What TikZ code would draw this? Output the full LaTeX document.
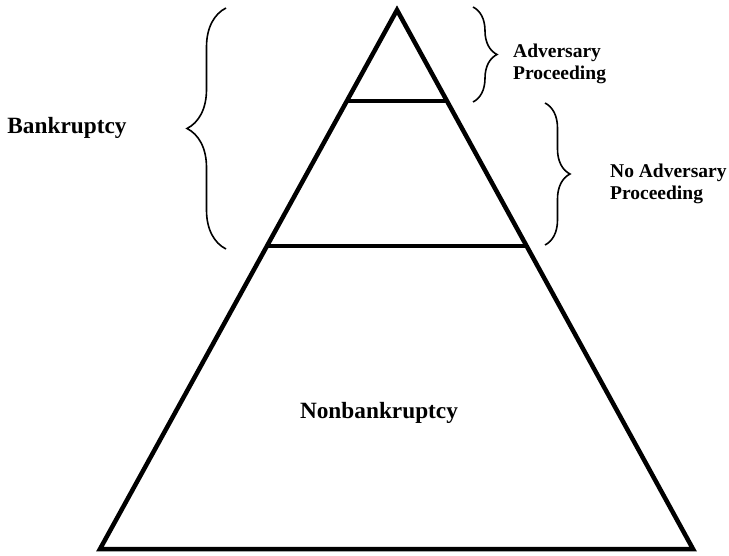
\documentclass[tikz,border=0pt]{standalone}
\usepackage{fontspec}
\setmainfont{Liberation Serif}
\usetikzlibrary{decorations.pathreplacing}

\tikzset{
	level/.style={line width=4.5pt},
	bracket/.style={line width=1.6pt, decorate, decoration={brace, amplitude=#1}},
	biglabel/.style={font=\fontsize{23.3}{26}\selectfont\bfseries, inner sep=0pt},
	smalllabel/.style={font=\fontsize{19.5}{22}\selectfont\bfseries, inner sep=0pt, align=left, anchor=west}
}

\begin{document}
\begin{tikzpicture}[x=1pt, y=-1pt]
		\useasboundingbox (0,0) rectangle (729,556);
		% Draw triangle.
		\coordinate (top) at (397,10);
		\coordinate (bl) at (100,549);
		\coordinate (br) at (693,549);
		\draw[level] (top) -- (br) -- (bl) -- cycle;
		
		% Draw the two cuts.
		\coordinate (p1) at (347,101);
		\coordinate (q1) at (447,101);
		\coordinate (p2) at (267,246);
		\coordinate (q2) at (527,246);
		\draw[level] (p1) -- (q1);
		\draw[level] (p2) -- (q2);
		
		% Braces.
		\coordinate (la) at (226,249);
		\coordinate (lb) at (226,8);
		\coordinate (ra) at (473,7);
		\coordinate (rb) at (473,102);
		\coordinate (sa) at (545,103);
		\coordinate (sb) at (545,245);
		\draw[bracket=39pt] (la) -- (lb);
		\draw[bracket=24pt] (ra) -- (rb);
		\draw[bracket=25pt] (sa) -- (sb);
		
		\node[biglabel] (bank) at (67,128) {Bankruptcy};
		\node[biglabel] (nonbank) at (379,413) {Nonbankruptcy};
		\node[smalllabel] (adv) at (513,64) {Adversary\\Proceeding};
		\node[smalllabel] (noadv) at (610,184) {No Adversary\\Proceeding};
	\end{tikzpicture}
\end{document}
